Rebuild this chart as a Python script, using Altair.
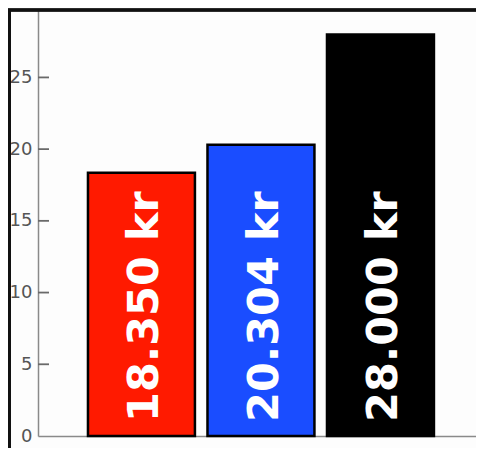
import altair as alt
import pandas as pd

categories = ["A", "B", "C"]
values = [18.35, 20.304, 28.0]
labels = ["18.350 kr", "20.304 kr", "28.000 kr"]
colors = ["#ff1a00", "#1a4dff", "#000000"]
tick_values = [5, 10, 15, 20, 25]

df = pd.DataFrame({"cat": categories, "value": values, "label": labels, "color": colors})
ticks_df = pd.DataFrame({"t": tick_values})

x_scale = alt.Scale(domain=categories, paddingInner=0.105, paddingOuter=0.385, align=0.543)
y_scale = alt.Scale(domain=[0, 29.7], nice=False)

bars = alt.Chart(df).mark_bar(stroke="#000000", strokeWidth=2.5).encode(
    x=alt.X("cat:N", scale=x_scale, sort=categories,
            axis=alt.Axis(labels=False, ticks=False, title=None, domainColor="#8a8a8a", domainWidth=1.5)),
    y=alt.Y("value:Q", scale=y_scale,
            axis=alt.Axis(values=[0, 5, 10, 15, 20, 25], ticks=False, grid=False, title=None,
                          labelFont="DejaVu Sans", labelFontSize=18, labelColor="#555555",
                          labelPadding=6, domainColor="#8a8a8a", domainWidth=1.5)),
    color=alt.Color("color:N", scale=None),
)

text = alt.Chart(df).mark_text(
    angle=270, align="left", baseline="middle", dx=14, dy=4,
    font="DejaVu Sans", fontWeight="bold", fontSize=43, color="white"
).encode(
    x=alt.X("cat:N", scale=x_scale, sort=categories),
    y=alt.Y(datum=0, scale=y_scale),
    text="label:N",
)

inner_ticks = alt.Chart(ticks_df).mark_rule(color="#6a6a6a", strokeWidth=1.8).encode(
    y=alt.Y("t:Q", scale=y_scale),
    x=alt.value(0),
    x2=alt.value(11),
)

frame_left = alt.Chart(df).mark_rule(color="#111111", strokeWidth=3).encode(
    x=alt.value(-28.5), y=alt.value(-1), y2=alt.value(460)
)
frame_top = alt.Chart(df).mark_rule(color="#111111", strokeWidth=3).encode(
    x=alt.value(-30), x2=alt.value(460), y=alt.value(0)
)

chart = alt.layer(bars, text, inner_ticks, frame_left, frame_top).properties(
    width=438, height=426,
    padding={"left": 30, "top": 2, "right": 0, "bottom": 12},
    autosize=alt.AutoSizeParams(type="none"),
    background="#fdfdfd",
).configure_view(stroke=None)

chart.save("out.html", embed_options={"renderer": "svg", "actions": False})
